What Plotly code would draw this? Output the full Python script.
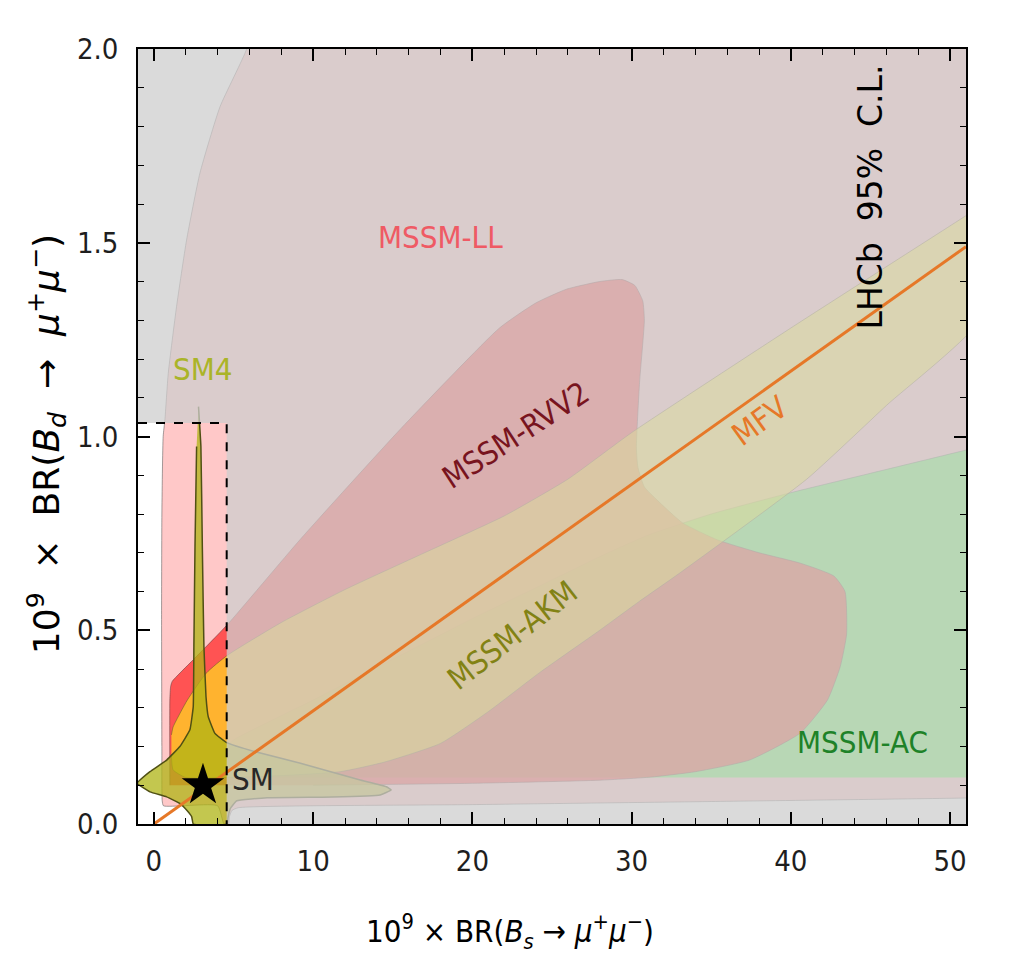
import plotly.graph_objects as go

# ---------------- data ----------------
x_ticks = [0, 10, 20, 30, 40, 50]
y_ticks = [0.0, 0.5, 1.0, 1.5, 2.0]

# LHCb 95% C.L. upper limits (dashed box)
lhcb_bs_limit = 4.57
lhcb_bd_limit = 1.035

# SM point
sm_bs = [3.08]
sm_bd = [0.10]

# MFV line
mfv_x = [0.0, 51.0]
mfv_y = [0.0, 1.49]

# MSSM-LL region
ll_x = [6.0, 5.82, 4.15, 2.89, 2.05, 1.42, 0.9, 0.69, 0.58, 0.5, 0.48, 0.5, 0.52, 0.6,
        4.0, 4.4, 4.7, 4.75, 4.9, 5.3, 20.0, 35.0, 51.0, 52.0, 52.0]
ll_y = [2.05, 2.0, 1.851, 1.68, 1.507, 1.335, 1.163, 1.043, 1.0, 0.8, 0.54, 0.2, 0.06, 0.047,
        0.047, 0.0, 0.0, 0.02, 0.035, 0.042, 0.05, 0.058, 0.067, 0.068, 2.05]

# MSSM-AC region
ac_x = [4.6, 4.6, 5.0, 10.0, 15.0, 20.0, 25.0, 28.0, 31.0, 35.0, 40.0, 45.0, 51.0, 52.0, 52.0]
ac_y = [0.12, 0.2, 0.217, 0.32, 0.425, 0.53, 0.63, 0.69, 0.745, 0.80, 0.855, 0.905, 0.965, 0.975, 0.12]

# MSSM-RVV2 region
rvv2_x = [1.0, 1.0, 1.05, 1.15, 2.5, 4.6, 9.2, 15.5, 21.7, 24.0, 25.9, 28.0, 29.4, 30.2, 30.7,
          30.8, 30.5, 30.3, 30.4, 30.8, 31.6, 33.2, 35.4, 38.0, 40.6, 42.7, 43.4, 43.5, 43.1,
          42.3, 40.6, 37.4, 34.0, 31.2, 28.0, 20.0, 10.0]
rvv2_y = [0.10, 0.32, 0.355, 0.368, 0.425, 0.514, 0.735, 1.02, 1.28, 1.345, 1.38, 1.40, 1.405,
          1.39, 1.35, 1.30, 1.14, 0.97, 0.92, 0.87, 0.836, 0.777, 0.733, 0.70, 0.673, 0.64, 0.60,
          0.49, 0.406, 0.32, 0.235, 0.165, 0.135, 0.121, 0.113, 0.105, 0.10]

# MSSM-AKM region
akm_x = [1.1, 1.2, 2.1, 3.3, 4.6, 8.0, 12.0, 17.0, 22.0, 26.0, 30.0, 40.0, 51.0, 52.0,
         52.0, 46.0, 41.0, 33.0, 30.5, 28.0, 24.2, 21.0, 18.0, 14.5, 11.7, 8.0, 4.6, 2.0,
         1.2, 1.1]
akm_y = [0.23, 0.25, 0.32, 0.39, 0.435, 0.52, 0.605, 0.70, 0.795, 0.89, 1.01, 1.28, 1.57, 1.597,
         1.308, 1.08, 0.89, 0.647, 0.575, 0.50, 0.39, 0.29, 0.208, 0.16, 0.135, 0.125, 0.12, 0.12,
         0.14, 0.18]

# SM4 region
sm4_x = [2.8, 2.95, 3.04, 3.14, 3.27, 3.41, 3.83, 4.57, 6.5, 9.2, 12.9, 14.6, 14.9, 14.2, 11.2,
         7.1, 5.2, 4.8, 4.65, 4.6, 2.47, 2.37, 2.05, 1.63, 0.8, -0.25, -1.05, -0.25, 0.8, 1.63,
         2.26, 2.47, 2.51, 2.58, 2.68]
sm4_y = [1.077, 0.974, 0.716, 0.458, 0.329, 0.277, 0.234, 0.21, 0.185, 0.157, 0.114, 0.096,
         0.088, 0.075, 0.07, 0.068, 0.06, 0.04, 0.015, 0.0, 0.0, 0.019, 0.036, 0.053, 0.07, 0.083,
         0.105, 0.135, 0.165, 0.2, 0.243, 0.303, 0.458, 0.716, 0.974]

x_range = [-1.0, 51.0]
y_range = [0.0, 2.0]

# ---------------- figure ----------------
NARROW = "Liberation Sans Narrow, DejaVu Sans Condensed, Liberation Sans, sans-serif"
fig = go.Figure()


def region(xs, ys, fill, line, width=1.0, smooth=0.5):
    fig.add_trace(go.Scatter(
        x=xs, y=ys, mode="lines", fill="toself", fillcolor=fill,
        line=dict(color=line, width=width, shape="spline", smoothing=smooth),
        hoverinfo="skip", showlegend=False))


region(ll_x, ll_y, "rgb(255,200,200)", "rgba(90,90,90,0.55)")
region(ac_x, ac_y, "rgba(80,255,80,0.77)", "rgba(90,90,90,0.5)")
region(rvv2_x, rvv2_y, "rgba(255,50,50,0.78)", "rgba(100,60,60,0.55)")
region(akm_x, akm_y, "rgba(255,255,20,0.56)", "rgba(100,90,40,0.55)")
region(sm4_x, sm4_y, "rgba(175,180,20,0.75)", "rgb(80,80,20)", width=1.5, smooth=0.3)

# excluded area (outside LHCb box) washed out in grey
ex_x = [lhcb_bs_limit, x_range[1] + 1, x_range[1] + 1, x_range[0] - 1, x_range[0] - 1, lhcb_bs_limit]
ex_y = [y_range[0] - 0.1, y_range[0] - 0.1, y_range[1] + 0.1, y_range[1] + 0.1, lhcb_bd_limit, lhcb_bd_limit]
fig.add_trace(go.Scatter(x=ex_x, y=ex_y, mode="lines", fill="toself",
                         fillcolor="rgba(205,205,205,0.75)", line=dict(width=0),
                         hoverinfo="skip", showlegend=False))

# MFV line
fig.add_trace(go.Scatter(x=mfv_x, y=mfv_y, mode="lines",
                         line=dict(color="rgb(230,120,40)", width=3),
                         hoverinfo="skip", showlegend=False))

# LHCb dashed box
fig.add_trace(go.Scatter(x=[x_range[0], lhcb_bs_limit, lhcb_bs_limit],
                         y=[lhcb_bd_limit, lhcb_bd_limit, y_range[0]], mode="lines",
                         line=dict(color="black", width=2, dash="dash"),
                         hoverinfo="skip", showlegend=False))

# SM star
fig.add_trace(go.Scatter(x=sm_bs, y=sm_bd, mode="markers",
                         marker=dict(symbol="star", size=32, color="black"),
                         hoverinfo="skip", showlegend=False, cliponaxis=False))

labels = [
    ("MSSM-LL", 18.0, 1.515, "rgb(239,90,100)", 0),
    ("SM4", 3.1, 1.174, "rgb(170,180,40)", 0),
    ("MSSM-RVV2", 22.7, 1.004, "rgb(120,20,30)", -33),
    ("MFV", 38.0, 1.04, "rgb(230,120,40)", -36),
    ("MSSM-AKM", 22.5, 0.488, "rgb(130,130,20)", -38),
    ("MSSM-AC", 44.5, 0.212, "rgb(30,130,40)", 0),
    ("SM", 6.2, 0.116, "rgb(40,40,40)", 0),
]
for txt, lx, ly, col, ang in labels:
    fig.add_annotation(x=lx, y=ly, text=txt, showarrow=False, textangle=ang,
                       font=dict(family=NARROW, size=31, color=col),
                       xanchor="center", yanchor="middle")

fig.add_annotation(x=45.0, y=1.618, text="LHCb\u00a0\u00a095%\u00a0\u00a0C.L.", showarrow=False,
                   textangle=-90, font=dict(family="DejaVu Sans", size=33, color="black"),
                   xanchor="center", yanchor="middle")

# axis titles
fig.add_annotation(xref="paper", yref="paper", x=0.449, y=-0.139,
                   text="10<sup>9</sup> × BR(<i>B</i><sub><i>s</i></sub> → <i>μ</i><sup>+</sup><i>μ</i><sup>−</sup>)",
                   showarrow=False, font=dict(family=NARROW, size=31, color="black"),
                   xanchor="center", yanchor="middle")
fig.add_annotation(xref="paper", yref="paper", x=-0.11, y=0.49, textangle=-90,
                   text="10<sup>9</sup>\u00a0\u00a0×\u00a0\u00a0BR(<i>B</i><sub><i>d</i></sub>\u00a0\u00a0→\u00a0\u00a0<i>μ</i><sup>+</sup><i>μ</i><sup>−</sup>)",
                   showarrow=False, font=dict(family="DejaVu Sans", size=36, color="black"),
                   xanchor="center", yanchor="middle")

axis_common = dict(showline=True, linecolor="black", linewidth=1.5, mirror="allticks",
                   ticks="inside", ticklen=12, tickwidth=1.5, tickcolor="black",
                   showgrid=False, zeroline=False,
                   tickfont=dict(family=NARROW, size=29, color="rgb(30,30,30)"))

fig.update_xaxes(range=x_range, tickvals=x_ticks, ticktext=[str(v) for v in x_ticks],
                 minor=dict(ticks="inside", ticklen=6, tickwidth=1, tickcolor="black", dtick=2, tick0=0),
                 ticklabelstandoff=10, **axis_common)
fig.update_yaxes(range=y_range, tickvals=y_ticks, ticktext=[f"{v:.1f}" for v in y_ticks],
                 minor=dict(ticks="inside", ticklen=6, tickwidth=1, tickcolor="black", dtick=0.1, tick0=0),
                 ticklabelstandoff=12, **axis_common)

fig.update_layout(width=1012, height=969, margin=dict(l=130, r=54, t=41, b=153),
                  plot_bgcolor="white", paper_bgcolor="white", showlegend=False)

fig.write_html("out.html")
